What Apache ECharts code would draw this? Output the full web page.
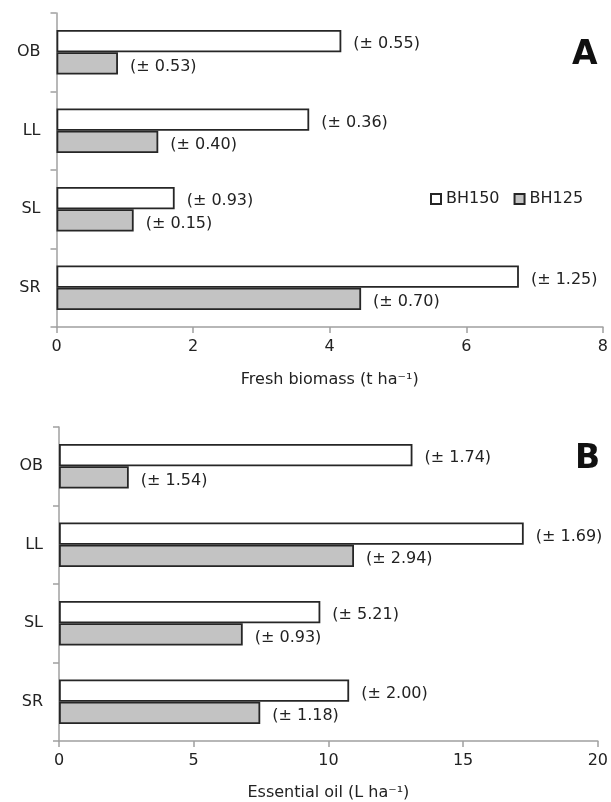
<!DOCTYPE html>
<html>
<head>
<meta charset="utf-8">
<script src="https://cdn.jsdelivr.net/npm/echarts@6/dist/echarts.min.js"></script>
<style>
  html, body { margin: 0; padding: 0; background: #fff; }
  #wrap { width: 611px; height: 802px; }
</style>
</head>
<body>
<div id="wrap"></div>
<script>
  const categories = ['OB', 'LL', 'SL', 'SR']
  // fresh biomass (t ha-1)
  const biomassBH150 = [4.17, 3.70, 1.73, 6.77]
  const biomassBH125 = [0.90, 1.49, 1.13, 4.46]
  const biomassErr150 = ['0.55', '0.36', '0.93', '1.25']
  const biomassErr125 = ['0.53', '0.40', '0.15', '0.70']
  // essential oil (L ha-1)
  const oilBH150 = [13.12, 17.25, 9.70, 10.77]
  const oilBH125 = [2.59, 10.95, 6.82, 7.47]
  const oilErr150 = ['1.74', '1.69', '5.21', '2.00']
  const oilErr125 = ['1.54', '2.94', '0.93', '1.18']

  const font = 'DejaVu Sans'
  const textColor = '#222'
  const axisColor = '#a0a0a0'

  function errLabel (errList) {
    return {
      show: true,
      position: 'right',
      distance: 12,
      offset: [0, 3],
      fontFamily: font,
      fontSize: 16,
      color: textColor,
      formatter: p => '(± ' + errList[p.dataIndex] + ')'
    }
  }

  function barSeries (name, idx, values, errList, fill) {
    return {
      type: 'bar',
      name: name,
      xAxisIndex: idx,
      yAxisIndex: idx,
      barGap: '0%',
      barCategoryGap: '43%',
      itemStyle: {
        color: fill,
        borderColor: '#262626',
        borderWidth: 1.8
      },
      label: errLabel(errList),
      data: values
    }
  }

  function valueAxis (idx, max, interval, name, nameGap) {
    return {
      type: 'value',
      gridIndex: idx,
      min: 0,
      max: max,
      interval: interval,
      name: name,
      nameLocation: 'middle',
      nameGap: nameGap,
      nameTextStyle: { fontFamily: font, fontSize: 16, color: textColor },
      splitLine: { show: false },
      axisLine: { show: true, lineStyle: { color: axisColor, width: 1.5 } },
      axisTick: { show: true, length: 6, lineStyle: { color: axisColor, width: 1.5 } },
      axisLabel: { margin: 12, fontFamily: font, fontSize: 16, color: textColor }
    }
  }

  function categoryAxis (idx) {
    return {
      type: 'category',
      gridIndex: idx,
      inverse: true,
      data: categories,
      axisLine: { show: true, lineStyle: { color: axisColor, width: 1.5 } },
      axisTick: { show: true, length: 6, lineStyle: { color: axisColor, width: 1.5 } },
      axisLabel: { margin: 16, fontFamily: font, fontSize: 16, color: textColor }
    }
  }

  const mychart = echarts.init(document.getElementById('wrap'))
  const options = {
    animation: false,
    backgroundColor: '#fff',
    grid: [
      { left: 56.5, right: 5, top: 13, height: 314 },
      { left: 59, right: 5, top: 427, height: 314 }
    ],
    legend: {
      data: ['BH150', 'BH125'],
      left: 425,
      top: 186,
      icon: 'rect',
      itemWidth: 10,
      itemHeight: 10,
      itemGap: 14,
      textStyle: { fontFamily: font, fontSize: 16, color: textColor }
    },
    graphic: [
      { type: 'text', left: 572, top: 39, style: { text: 'A', font: 'bold 33px "DejaVu Sans"', fill: '#111' } },
      { type: 'text', left: 575, top: 443, style: { text: 'B', font: 'bold 33px "DejaVu Sans"', fill: '#111' } }
    ],
    xAxis: [
      valueAxis(0, 8, 2, 'Fresh biomass (t ha⁻¹)', 45),
      valueAxis(1, 20, 5, 'Essential oil (L ha⁻¹)', 44)
    ],
    yAxis: [categoryAxis(0), categoryAxis(1)],
    series: [
      barSeries('BH150', 0, biomassBH150, biomassErr150, '#ffffff'),
      barSeries('BH125', 0, biomassBH125, biomassErr125, '#c3c3c3'),
      barSeries('BH150', 1, oilBH150, oilErr150, '#ffffff'),
      barSeries('BH125', 1, oilBH125, oilErr125, '#c3c3c3')
    ]
  }
  mychart.setOption(options)
</script>
</body>
</html>
